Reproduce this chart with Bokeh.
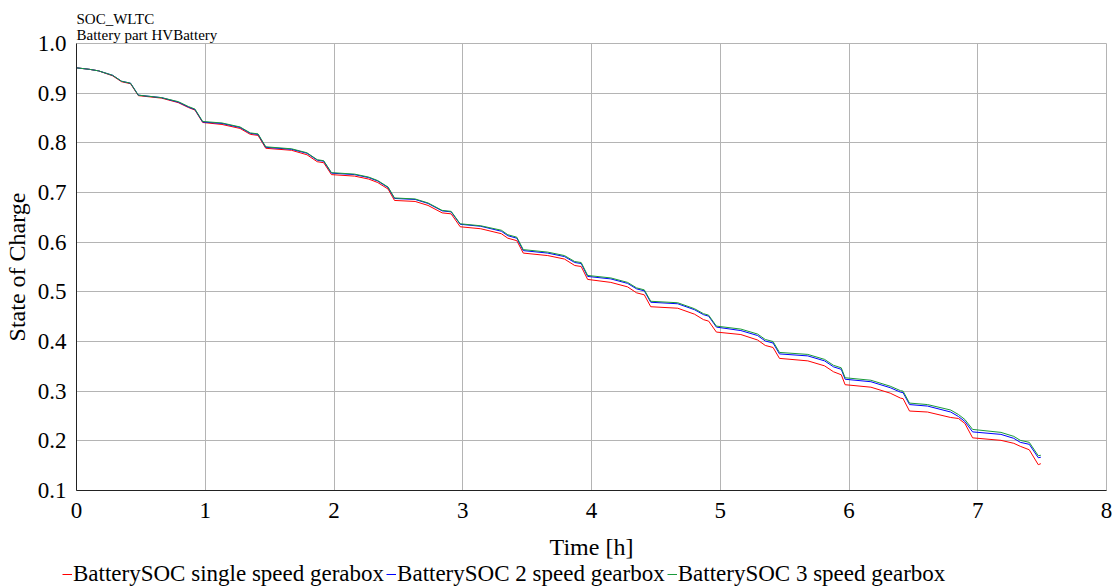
from bokeh.plotting import figure
from bokeh.models import Range1d, FixedTicker, PrintfTickFormatter, Legend, LegendItem
from bokeh.layouts import column
from bokeh.embed import file_html
from bokeh.resources import INLINE

# ---- data ----
time_h = [0.00, 0.10, 0.17, 0.28, 0.35, 0.42, 0.48,
          0.66, 0.79, 0.87, 0.92, 0.98,
          1.13, 1.27, 1.35, 1.41, 1.47,
          1.67, 1.79, 1.87, 1.92, 1.98,
          2.16, 2.27, 2.34, 2.42, 2.47,
          2.63, 2.73, 2.84, 2.91, 2.98,
          3.14, 3.30, 3.35, 3.42, 3.47,
          3.66, 3.79, 3.87, 3.92, 3.97,
          4.15, 4.28, 4.35, 4.41, 4.46,
          4.67, 4.80, 4.87, 4.91, 4.97,
          5.16, 5.29, 5.35, 5.41, 5.46,
          5.68, 5.81, 5.88, 5.94, 5.97,
          6.17, 6.32, 6.40, 6.42, 6.47,
          6.61, 6.79, 6.85, 6.90, 6.96,
          7.18, 7.28, 7.33, 7.40, 7.47, 7.49]

soc_3speed = [0.951, 0.948, 0.945, 0.936, 0.924, 0.920, 0.896,
              0.891, 0.883, 0.873, 0.868, 0.843,
              0.840, 0.832, 0.820, 0.818, 0.792,
              0.788, 0.780, 0.766, 0.764, 0.740,
              0.737, 0.731, 0.724, 0.711, 0.689,
              0.687, 0.679, 0.664, 0.662, 0.637,
              0.633, 0.624, 0.615, 0.610, 0.585,
              0.580, 0.573, 0.561, 0.559, 0.533,
              0.528, 0.519, 0.508, 0.504, 0.481,
              0.478, 0.466, 0.456, 0.453, 0.431,
              0.425, 0.415, 0.404, 0.400, 0.378,
              0.374, 0.364, 0.352, 0.347, 0.327,
              0.322, 0.310, 0.301, 0.300, 0.276,
              0.273, 0.262, 0.253, 0.243, 0.223,
              0.217, 0.209, 0.201, 0.197, 0.170, 0.171]

soc_2speed = [0.951, 0.948, 0.945, 0.936, 0.924, 0.920, 0.896,
              0.891, 0.882, 0.872, 0.867, 0.842,
              0.839, 0.831, 0.819, 0.817, 0.791,
              0.787, 0.779, 0.765, 0.763, 0.739,
              0.736, 0.730, 0.723, 0.710, 0.688,
              0.686, 0.678, 0.663, 0.661, 0.636,
              0.632, 0.622, 0.613, 0.608, 0.583,
              0.578, 0.571, 0.559, 0.557, 0.531,
              0.526, 0.517, 0.506, 0.502, 0.479,
              0.476, 0.464, 0.454, 0.451, 0.429,
              0.422, 0.412, 0.401, 0.397, 0.375,
              0.371, 0.361, 0.349, 0.344, 0.324,
              0.319, 0.307, 0.298, 0.297, 0.273,
              0.270, 0.258, 0.249, 0.239, 0.218,
              0.213, 0.205, 0.197, 0.193, 0.166, 0.167]

soc_single = [0.951, 0.948, 0.945, 0.935, 0.923, 0.919, 0.895,
              0.890, 0.881, 0.871, 0.866, 0.841,
              0.837, 0.829, 0.817, 0.815, 0.789,
              0.785, 0.776, 0.762, 0.760, 0.736,
              0.733, 0.727, 0.720, 0.707, 0.684,
              0.682, 0.674, 0.659, 0.657, 0.631,
              0.627, 0.617, 0.608, 0.603, 0.578,
              0.573, 0.566, 0.553, 0.551, 0.525,
              0.519, 0.510, 0.498, 0.494, 0.470,
              0.467, 0.455, 0.444, 0.441, 0.419,
              0.414, 0.403, 0.392, 0.388, 0.366,
              0.361, 0.351, 0.339, 0.333, 0.313,
              0.308, 0.296, 0.286, 0.285, 0.260,
              0.258, 0.247, 0.245, 0.235, 0.206,
              0.201, 0.195, 0.189, 0.182, 0.152, 0.154]

series_labels = ["BatterySOC single speed gerabox",
                 "BatterySOC 2 speed gearbox",
                 "BatterySOC 3 speed gearbox"]
series_colors = ["#ff0000", "#0000ff", "#1a9a3a"]
x_ticks = [0, 1, 2, 3, 4, 5, 6, 7, 8]
y_ticks = [0.1, 0.2, 0.3, 0.4, 0.5, 0.6, 0.7, 0.8, 0.9, 1.0]

FONT = "Liberation Serif"
GRID = "#b4b4b4"

p = figure(width=1118, height=562, output_backend="svg", toolbar_location=None,
           x_range=Range1d(0, 8), y_range=Range1d(0.1, 1.0),
           min_border_left=74, min_border_right=12, min_border_top=43, min_border_bottom=71,
           background_fill_color="white", border_fill_color="white")

p.title.text = "SOC_WLTC\nBattery part HVBattery"
p.title.text_font = FONT
p.title.text_font_size = "15px"
p.title.text_font_style = "normal"
p.title.text_color = "black"
p.title.align = "left"
p.title.standoff = 1
p.title.offset = 0

p.outline_line_color = GRID

for ax in (p.xaxis[0], p.yaxis[0]):
    ax.major_tick_line_color = None
    ax.minor_tick_line_color = None
    ax.axis_line_color = "#222222"
    ax.axis_line_width = 1
    ax.major_label_text_font = FONT
    ax.major_label_text_font_size = "23px"
    ax.major_label_text_color = "black"
    ax.axis_label_text_font = FONT
    ax.axis_label_text_font_size = "24px"
    ax.axis_label_text_font_style = "normal"
    ax.axis_label_text_color = "black"

p.xaxis.ticker = FixedTicker(ticks=x_ticks)
p.yaxis.ticker = FixedTicker(ticks=y_ticks)
p.yaxis.formatter = PrintfTickFormatter(format="%.1f")
p.xaxis.axis_label = "Time [h]"
p.yaxis.axis_label = "State of Charge"
p.xaxis.major_label_standoff = 6
p.yaxis.major_label_standoff = 4
p.xaxis.axis_label_standoff = 13
p.yaxis.axis_label_standoff = 5

p.grid.grid_line_color = GRID
p.grid.grid_line_width = 1

series = [soc_single, soc_2speed, soc_3speed]
for vals, c in zip(series, series_colors):
    p.line(time_h, vals, line_color=c, line_width=1)

# ---- legend strip below the chart (its lines lie outside its own view) ----
lg = figure(width=1118, height=25, output_backend="svg", toolbar_location=None,
            x_range=Range1d(100, 101), y_range=Range1d(0, 1),
            x_axis_location=None, y_axis_location=None,
            min_border_left=0, min_border_right=0, min_border_top=0, min_border_bottom=0,
            background_fill_color="white", border_fill_color="white")
lg.outline_line_color = None
lg.grid.visible = False

legend_x = 0
if "frame_align" in lg.properties():
    lg.frame_align = False
    p.frame_align = False
    legend_x = 62

proxies = [lg.line(time_h, vals, line_color=c, line_width=1) for vals, c in zip(series, series_colors)]
legend = Legend(items=[LegendItem(label=lab, renderers=[r]) for lab, r in zip(series_labels, proxies)],
                orientation="horizontal", location=(legend_x, 0),
                label_text_font=FONT, label_text_font_size="23px", label_text_color="black",
                glyph_width=10, glyph_height=20, label_height=24, label_standoff=1, spacing=2,
                padding=0, margin=0, border_line_color=None, background_fill_alpha=0)
lg.add_layout(legend, "center")

page = column(p, lg, spacing=0)
open("out.html", "w").write(file_html(page, INLINE))
